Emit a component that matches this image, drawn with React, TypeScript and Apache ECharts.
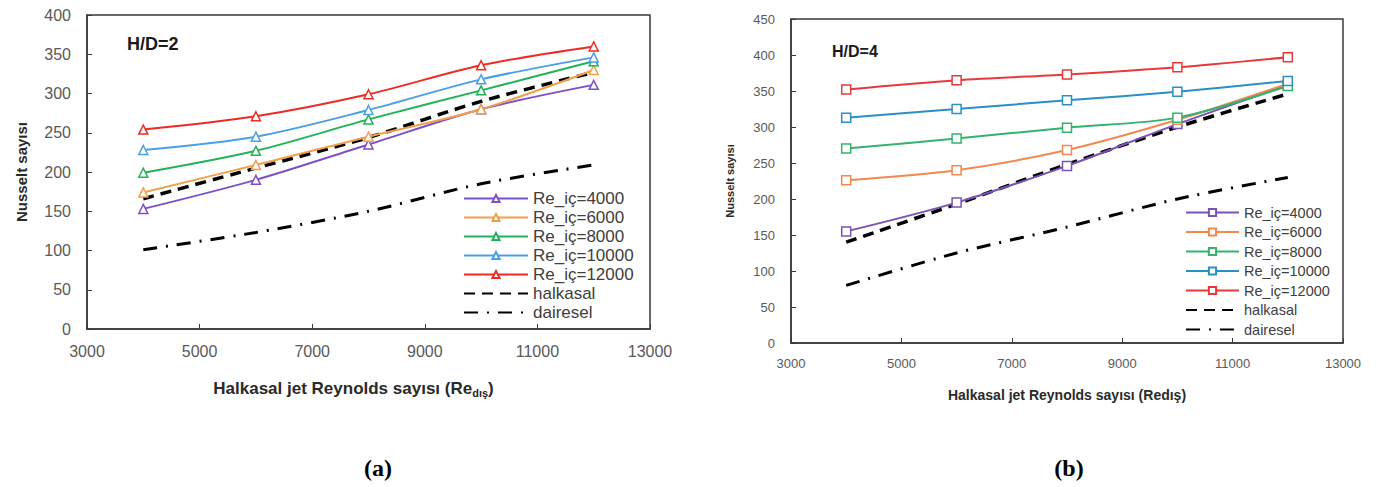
import React, { useEffect, useRef } from "react";
import * as echarts from "echarts";

// X values (outer jet Reynolds number)
const reX = [4000, 6000, 8000, 10000, 12000];
const legendNames = ["Re_iç=4000", "Re_iç=6000", "Re_iç=8000", "Re_iç=10000", "Re_iç=12000", "halkasal", "dairesel"];

// (a) H/D=2
const a_re4000 = [153, 190, 235, 280, 311];
const a_re6000 = [174, 209, 245, 280, 330];
const a_re8000 = [199, 227, 267, 304, 341];
const a_re10000 = [228, 245, 279, 318, 346];
const a_re12000 = [254, 271, 299, 336, 360];
const a_halkasal = [166, 205, 244, 290, 327];
const a_dairesel = [101, 123, 150, 185, 209];

// (b) H/D=4
const b_re4000 = [155, 195, 246, 304, 358];
const b_re6000 = [226, 240, 268, 310, 360];
const b_re8000 = [270, 284, 299, 313, 357];
const b_re10000 = [313, 325, 337, 349, 364];
const b_re12000 = [352, 365, 373, 383, 397];
const b_halkasal = [140, 193, 248, 300, 346];
const b_dairesel = [80, 125, 161, 200, 230];

const aColors = ["#7f4fc9", "#f0a04b", "#22b35a", "#4a9fe8", "#ee2a24"];
const bColors = ["#7a52b8", "#f2884f", "#33b36d", "#2a8fc4", "#e8383a"];

const pair = (ys: number[]) => reX.map((x, i) => [x, ys[i]]);

type Cfg = {
  width: number;
  grid: { left: number; right: number; top: number; height: number };
  yMax: number;
  series: number[][];
  halkasal: number[];
  dairesel: number[];
  colors: string[];
  symbol: string;
  symbolSize: number;
  tickFont: number;
  legend: { left: number; top: number; itemWidth: number; font: number; gap: number };
  yName: { gap: number; font: number };
  xName: { gap: number; font: number; rich: boolean; shift: number };
  hd: { text: string; x: number; y: number; font: number };
  tag: { text: string; x: number; y: number };
};

const buildOption = (c: Cfg) => {
  const lineSeries: any[] = c.series.map((ys, i) => ({
    name: legendNames[i],
    type: "line",
    data: pair(ys),
    smooth: 0.3,
    symbol: c.symbol,
    symbolSize: c.symbolSize,
    color: c.colors[i],
    lineStyle: { color: c.colors[i], width: 2 },
    itemStyle: { color: "#ffffff", borderColor: c.colors[i], borderWidth: 1.5 },
    z: 3,
  }));
  lineSeries.push({
    name: "halkasal",
    type: "line",
    data: pair(c.halkasal),
    smooth: 0.3,
    symbol: "none",
    color: "#000000",
    itemStyle: { color: "rgba(0,0,0,0)", borderColor: "rgba(0,0,0,0)", borderWidth: 0 },
    lineStyle: { color: "#000000", width: 3.5, type: [11, 7] },
    z: 2,
  });
  lineSeries.push({
    name: "dairesel",
    type: "line",
    data: pair(c.dairesel),
    smooth: 0.3,
    symbol: "none",
    color: "#000000",
    itemStyle: { color: "rgba(0,0,0,0)", borderColor: "rgba(0,0,0,0)", borderWidth: 0 },
    lineStyle: { color: "#000000", width: 3, type: [14, 9, 2, 9] },
    z: 2,
  });

  const axisLine = { show: true, lineStyle: { color: "#3a3a3a", width: 1.5 } };
  const tickLabel = { color: "#595959", fontSize: c.tickFont, fontFamily: "Liberation Sans" };

  return {
    animation: false,
    backgroundColor: "#ffffff",
    grid: {
      ...c.grid,
      show: true,
      borderColor: "#3a3a3a",
      borderWidth: 1.5,
      backgroundColor: "transparent",
    },
    legend: {
      orient: "vertical",
      left: c.legend.left,
      top: c.legend.top,
      itemWidth: c.legend.itemWidth,
      itemHeight: 9,
      itemGap: c.legend.gap,
      padding: 0,
      data: legendNames,
      textStyle: {
        color: "#404040",
        fontSize: c.legend.font,
        fontFamily: "Liberation Sans",
      },
    },
    xAxis: {
      type: "value",
      min: 3000,
      max: 13000,
      interval: 2000,
      axisLine,
      axisTick: { show: true, inside: true, length: 5, lineStyle: { color: "#3a3a3a" } },
      splitLine: { show: false },
      axisLabel: { ...tickLabel, margin: 14, formatter: (v: number) => String(v) },
      name: c.xName.rich
        ? "{a|Halkasal jet Reynolds sayısı (Re}{s|dış}{a|)}"
        : "Halkasal jet Reynolds sayısı (Redış)",
      nameLocation: "middle",
      nameGap: c.xName.gap,
      nameTextStyle: {
        color: "#2a2a2a",
        fontWeight: "bold",
        fontSize: c.xName.font,
        fontFamily: "Liberation Sans",
        padding: [0, c.xName.shift, 0, 0],
        rich: {
          a: { color: "#2a2a2a", fontWeight: "bold", fontSize: c.xName.font, fontFamily: "Liberation Sans" },
          s: {
            color: "#2a2a2a",
            fontWeight: "bold",
            fontSize: Math.round(c.xName.font * 0.65),
            fontFamily: "Liberation Sans",
            padding: [8, 0, 0, 0],
          },
        },
      },
    },
    yAxis: {
      type: "value",
      min: 0,
      max: c.yMax,
      interval: 50,
      axisLine,
      axisTick: { show: true, inside: true, length: 5, lineStyle: { color: "#3a3a3a" } },
      splitLine: { show: false },
      axisLabel: { ...tickLabel, margin: 16 },
      name: "Nusselt sayısı",
      nameLocation: "middle",
      nameGap: c.yName.gap,
      nameTextStyle: {
        color: "#2a2a2a",
        fontWeight: "bold",
        fontSize: c.yName.font,
        fontFamily: "Liberation Sans",
      },
    },
    graphic: [
      {
        type: "text",
        x: c.hd.x,
        y: c.hd.y,
        style: {
          text: c.hd.text,
          fill: "#1a1a1a",
          fontWeight: "bold",
          fontSize: c.hd.font,
          fontFamily: "Liberation Sans",
          verticalAlign: "middle",
        },
      },
      {
        type: "text",
        x: c.tag.x,
        y: c.tag.y,
        style: {
          text: c.tag.text,
          fill: "#000000",
          fontWeight: "bold",
          fontSize: 24,
          fontFamily: "Liberation Serif",
          align: "center",
          verticalAlign: "middle",
        },
      },
    ],
    series: lineSeries,
  };
};

const cfgA: Cfg = {
  width: 690,
  grid: { left: 87, right: 40, top: 15, height: 314 },
  yMax: 400,
  series: [a_re4000, a_re6000, a_re8000, a_re10000, a_re12000],
  halkasal: a_halkasal,
  dairesel: a_dairesel,
  colors: aColors,
  symbol: "triangle",
  symbolSize: 9,
  tickFont: 16,
  legend: { left: 463, top: 190, itemWidth: 64, font: 17, gap: 2 },
  yName: { gap: 58, font: 15 },
  xName: { gap: 50, font: 17, rich: true, shift: 30 },
  hd: { text: "H/D=2", x: 127, y: 44, font: 18 },
  tag: { text: "(a)", x: 378, y: 468 },
};

const cfgB: Cfg = {
  width: 689,
  grid: { left: 101, right: 36, top: 19, height: 324 },
  yMax: 450,
  series: [b_re4000, b_re6000, b_re8000, b_re10000, b_re12000],
  halkasal: b_halkasal,
  dairesel: b_dairesel,
  colors: bColors,
  symbol: "rect",
  symbolSize: 9,
  tickFont: 13,
  legend: { left: 495, top: 205, itemWidth: 53, font: 14.5, gap: 4.5 },
  yName: { gap: 56, font: 11 },
  xName: { gap: 45, font: 14, rich: false, shift: 0 },
  hd: { text: "H/D=4", x: 142, y: 51, font: 16 },
  tag: { text: "(b)", x: 379, y: 468 },
};

const Chart: React.FC<{ cfg: Cfg; left: number }> = ({ cfg, left }) => {
  const ref = useRef<HTMLDivElement>(null);
  useEffect(() => {
    if (!ref.current) return;
    const chart = echarts.init(ref.current, undefined, { renderer: "svg" });
    chart.setOption(buildOption(cfg) as any);
    return () => chart.dispose();
  }, [cfg]);
  return (
    <div
      ref={ref}
      style={{ position: "absolute", left, top: 0, width: cfg.width, height: 487 }}
    />
  );
};

export default function App() {
  return (
    <div
      style={{
        position: "fixed",
        left: 0,
        top: 0,
        width: 1379,
        height: 487,
        background: "#ffffff",
        overflow: "hidden",
      }}
    >
      <Chart cfg={cfgA} left={0} />
      <Chart cfg={cfgB} left={690} />
    </div>
  );
}
